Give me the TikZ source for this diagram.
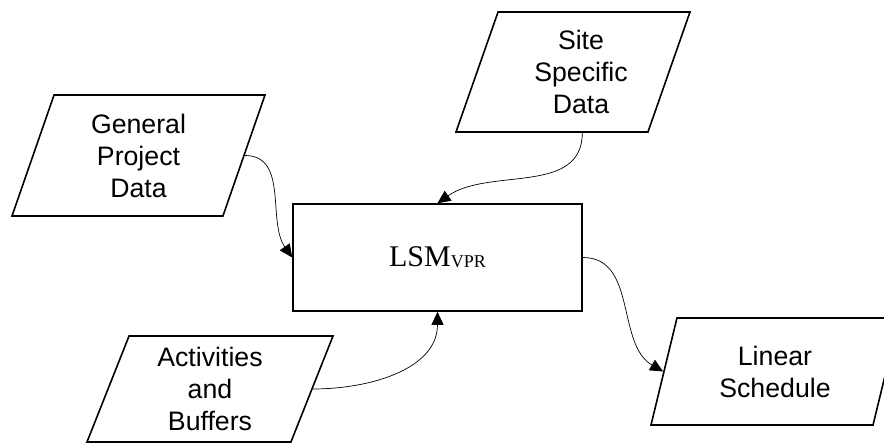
\documentclass[tikz,border=0pt]{standalone}
\usepackage{fontspec}
\newfontfamily\arialf{Liberation Sans}
\newfontfamily\timesf{Liberation Serif}
\usetikzlibrary{shapes.geometric,arrows.meta,calc}
\tikzset{
  para/.style={draw, line width=1.6pt, trapezium, trapezium left angle=63.3,
    trapezium right angle=116.7, trapezium stretches body, inner sep=0pt,
    align=center, font={\arialf\fontsize{26.7}{32}\selectfont}},
  procbox/.style={draw, line width=1.6pt, rectangle, minimum width=289pt, minimum height=107pt, inner sep=0pt},
  conn/.style={line width=0.7pt, -{Triangle[length=13pt,width=12pt]}}
}
\begin{document}
\begin{tikzpicture}[x=1pt,y=1pt]
\useasboundingbox (0,0) rectangle (884,443);
\clip (0,0) rectangle (884,443);
\node[para, minimum width=253pt, minimum height=121pt] (gpd) at (138.5,287.5) {General\\Project\\Data};
\node[para, minimum width=234pt, minimum height=120pt] (site) at (573,371) {\hspace*{16pt}Site\\\hspace*{16pt}Specific\\\hspace*{16pt}Data};
\node[para, minimum width=246pt, minimum height=106pt] (act) at (210,54) {Activities\\and\\Buffers};
\node[para, minimum width=248pt, minimum height=107pt] (lin) at (775,71.5) {Linear\\Schedule};
\node[procbox] (lsm) at (437.5,185.5) {\timesf\fontsize{30}{34}\selectfont LSM\raisebox{-1pt}{\fontsize{18}{20}\selectfont VPR}};
\coordinate (sitebot) at ($(site.bottom left corner)!0.658!(site.bottom right corner)$);
\draw[conn] (gpd.east) to[out=0,in=125] (lsm.west);
\draw[conn] (sitebot) to[out=-90,in=35] (lsm.north);
\draw[conn] (act.east) to[out=0,in=-90] (lsm.south);
\draw[conn] (lsm.east) to[out=0,in=150] (lin.west);
\end{tikzpicture}
\end{document}
